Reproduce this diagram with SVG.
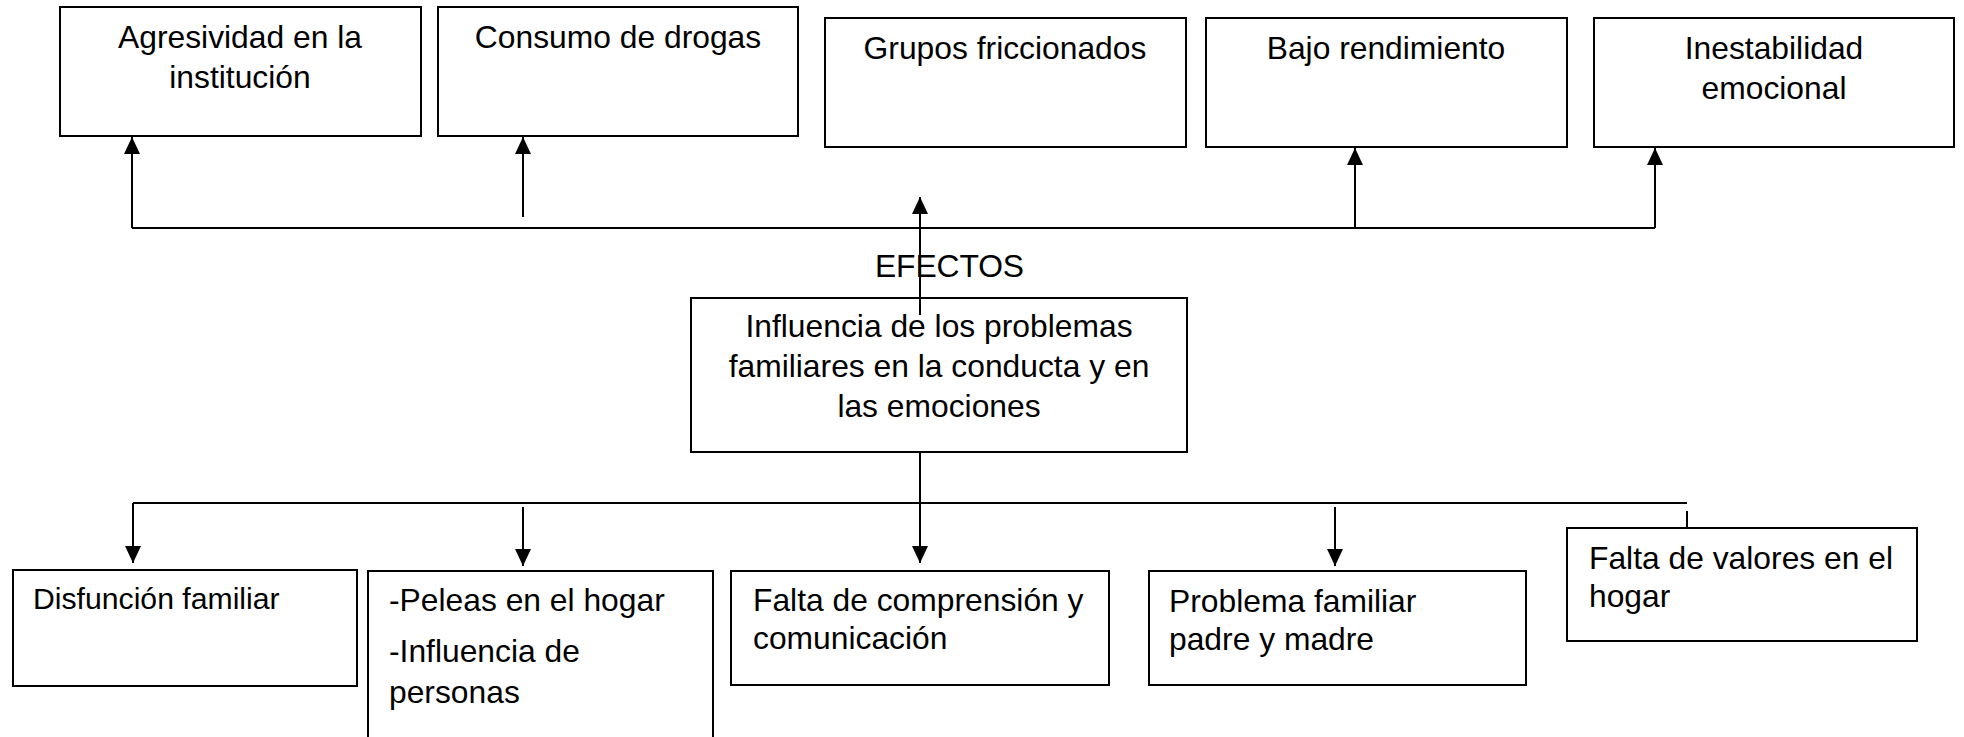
<svg xmlns="http://www.w3.org/2000/svg" width="1964" height="737" viewBox="0 0 1964 737">
<defs>
<style>
.box{fill:#fff;stroke:#000;stroke-width:2}
.t{font-family:"Liberation Sans",Arial,sans-serif;font-size:31.8px;fill:#000}
.c{text-anchor:middle}
.ln{stroke:#000;stroke-width:2;fill:none}
</style>
<marker id="ah" viewBox="0 0 17 16" refX="17" refY="8" markerWidth="17" markerHeight="16" markerUnits="userSpaceOnUse" orient="auto" preserveAspectRatio="none">
<path d="M0,0 L17,8 L0,16 Z" fill="#000"/>
</marker>
</defs>
<rect width="1964" height="737" fill="#fff"/>

<g id="n-agresividad"><rect class="box" x="60" y="7" width="361" height="129"/>
<text class="t c" x="240" y="48">Agresividad en la</text><text class="t c" x="240" y="88">institución</text></g>
<g id="n-consumo"><rect class="box" x="438" y="7" width="360" height="129"/>
<text class="t c" x="618" y="48">Consumo de drogas</text></g>
<g id="n-grupos"><rect class="box" x="825" y="18" width="361" height="129"/>
<text class="t c" x="1005" y="59">Grupos friccionados</text></g>
<g id="n-bajo"><rect class="box" x="1206" y="18" width="361" height="129"/>
<text class="t c" x="1386" y="59">Bajo rendimiento</text></g>
<g id="n-inestabilidad"><rect class="box" x="1594" y="18" width="360" height="129"/>
<text class="t c" x="1774" y="59">Inestabilidad</text><text class="t c" x="1774" y="99">emocional</text></g>

<g id="n-efectos"><text class="t" x="875" y="277" textLength="149">EFECTOS</text></g>

<g id="n-central"><rect class="box" x="691" y="298" width="496" height="154"/>
<text class="t c" x="939" y="337">Influencia de los problemas</text>
<text class="t c" x="939" y="377">familiares en la conducta y en</text>
<text class="t c" x="939" y="417">las emociones</text></g>

<g id="n-disfuncion"><rect class="box" x="13" y="570" width="344" height="116"/>
<text class="t" x="33" y="609" style="font-size:30.2px">Disfunción familiar</text></g>
<g id="n-peleas"><rect class="box" x="368" y="571" width="345" height="180"/>
<text class="t" x="389" y="611">-Peleas en el hogar</text>
<text class="t" x="389" y="662">-Influencia de</text>
<text class="t" x="389" y="703">personas</text></g>
<g id="n-comprension"><rect class="box" x="731" y="571" width="378" height="114"/>
<text class="t" x="753" y="611">Falta de comprensión y</text>
<text class="t" x="753" y="649">comunicación</text></g>
<g id="n-problema"><rect class="box" x="1149" y="571" width="377" height="114"/>
<text class="t" x="1169" y="612">Problema familiar</text>
<text class="t" x="1169" y="650">padre y madre</text></g>
<g id="n-valores"><rect class="box" x="1567" y="528" width="350" height="113"/>
<text class="t" x="1589" y="569">Falta de valores en el</text>
<text class="t" x="1589" y="607">hogar</text></g>

<g id="connectors">
<path class="ln" d="M132,228 H1655"/>
<path class="ln" d="M132,228 V137" marker-end="url(#ah)"/>
<path class="ln" d="M523,217 V137" marker-end="url(#ah)"/>
<path class="ln" d="M920,315 V197" marker-end="url(#ah)"/>
<path class="ln" d="M1355,228 V148" marker-end="url(#ah)"/>
<path class="ln" d="M1655,228 V148" marker-end="url(#ah)"/>
<path class="ln" d="M133,503 H1687"/>
<path class="ln" d="M133,503 V563" marker-end="url(#ah)"/>
<path class="ln" d="M523,507 V566" marker-end="url(#ah)"/>
<path class="ln" d="M920,452 V563" marker-end="url(#ah)"/>
<path class="ln" d="M1335,507 V566" marker-end="url(#ah)"/>
<path class="ln" d="M1687,511 V528"/>
</g>
</svg>
